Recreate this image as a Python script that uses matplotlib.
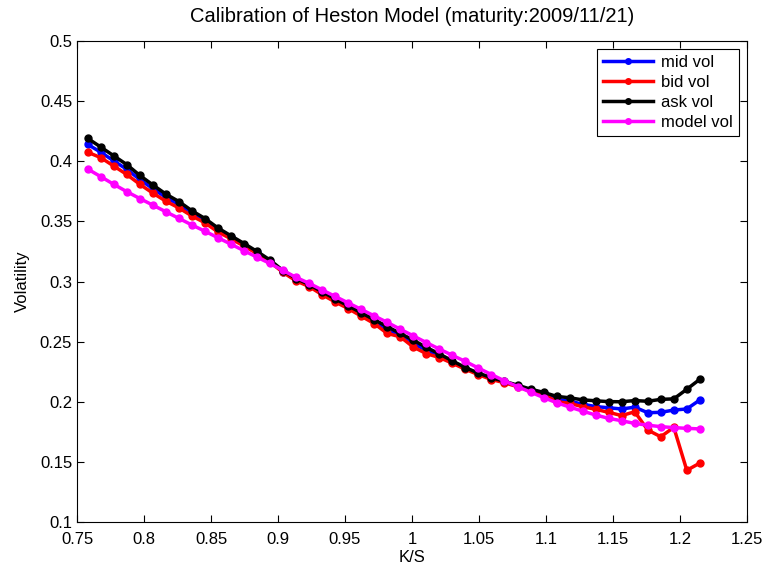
import numpy as np
import matplotlib
matplotlib.use("Agg")
import matplotlib.pyplot as plt
from matplotlib.ticker import FormatStrFormatter

plt.rcParams['font.family'] = ['Liberation Sans', 'DejaVu Sans']

# strikes and spot
strikes = [390, 395, 400, 405, 410, 415, 420, 425, 430, 435, 440, 445,
           450, 455, 460, 465, 470, 475, 480, 485, 490, 495, 500, 505,
           510, 515, 520, 525, 530, 535, 540, 545, 550, 555, 560, 565,
           570, 575, 580, 585, 590, 595, 600, 605, 610, 615, 620, 625]
spot = 514.5

mid_vol = [0.4140, 0.4075, 0.4003, 0.3933, 0.3848, 0.3772, 0.3700, 0.3640,
           0.3568, 0.3508, 0.3430, 0.3368, 0.3307, 0.3242, 0.3170, 0.3083,
           0.3015, 0.2967, 0.2903, 0.2843, 0.2787, 0.2727, 0.2668, 0.2598,
           0.2555, 0.2485, 0.2428, 0.2385, 0.2330, 0.2278, 0.2232, 0.2193,
           0.2165, 0.2132, 0.2098, 0.2070, 0.2020, 0.2005, 0.1980, 0.1960,
           0.1950, 0.1940, 0.1955, 0.1909, 0.1912, 0.1931, 0.1940, 0.2015]
bid_vol = [0.4075, 0.4030, 0.3960, 0.3890, 0.3808, 0.3735, 0.3668, 0.3612,
           0.3545, 0.3488, 0.3412, 0.3355, 0.3295, 0.3232, 0.3162, 0.3075,
           0.3005, 0.2958, 0.2890, 0.2830, 0.2775, 0.2712, 0.2650, 0.2568,
           0.2540, 0.2455, 0.2400, 0.2368, 0.2320, 0.2270, 0.2225, 0.2185,
           0.2158, 0.2125, 0.2090, 0.2065, 0.2000, 0.1987, 0.1959, 0.1937,
           0.1912, 0.1885, 0.1917, 0.1765, 0.1709, 0.1787, 0.1430, 0.1490]
ask_vol = [0.4190, 0.4118, 0.4045, 0.3972, 0.3882, 0.3803, 0.3727, 0.3665,
           0.3588, 0.3524, 0.3445, 0.3380, 0.3316, 0.3250, 0.3178, 0.3090,
           0.3025, 0.2975, 0.2915, 0.2855, 0.2798, 0.2740, 0.2682, 0.2625,
           0.2568, 0.2512, 0.2452, 0.2398, 0.2340, 0.2284, 0.2238, 0.2200,
           0.2170, 0.2138, 0.2105, 0.2078, 0.2045, 0.2033, 0.2016, 0.2008,
           0.2001, 0.2000, 0.2010, 0.2004, 0.2020, 0.2024, 0.2104, 0.2187]
model_vol = [0.3935, 0.3872, 0.3808, 0.3747, 0.3690, 0.3635, 0.3580, 0.3525,
             0.3470, 0.3418, 0.3364, 0.3310, 0.3256, 0.3202, 0.3150, 0.3092,
             0.3034, 0.2985, 0.2930, 0.2876, 0.2822, 0.2768, 0.2714, 0.2660,
             0.2603, 0.2548, 0.2492, 0.2438, 0.2386, 0.2335, 0.2280, 0.2226,
             0.2174, 0.2126, 0.2080, 0.2035, 0.1992, 0.1956, 0.1922, 0.1890,
             0.1862, 0.1842, 0.1820, 0.1805, 0.1793, 0.1785, 0.1779, 0.1774]

x = np.array(strikes) / spot

fig = plt.figure(figsize=(7.68, 5.73), dpi=100)
ax = fig.add_axes([0.1003, 0.089, 0.8724, 0.8394])

style = dict(linewidth=2.5, marker='o', markersize=5)
ax.plot(x, mid_vol, color='#0000ff', label='mid vol', **style)
ax.plot(x, bid_vol, color='#ff0000', label='bid vol', **style)
ax.plot(x, ask_vol, color='#000000', label='ask vol', **style)
ax.plot(x, model_vol, color='#ff00ff', label='model vol', **style)

ax.set_xlim(0.75, 1.25)
ax.set_ylim(0.1, 0.5)
ax.set_xticks(np.arange(0.75, 1.2501, 0.05))
ax.set_yticks(np.arange(0.1, 0.5001, 0.05))
ax.xaxis.set_major_formatter(FormatStrFormatter('%g'))
ax.yaxis.set_major_formatter(FormatStrFormatter('%g'))
ax.tick_params(direction='in', top=True, right=True, labelsize=12, length=5)
ax.tick_params(axis='x', pad=7)
ax.tick_params(axis='y', pad=3.5)
for s in ax.spines.values():
    s.set_linewidth(0.8)

ax.set_title('Calibration of Heston Model (maturity:2009/11/21)', fontsize=14.5, pad=14)
ax.set_xlabel('K/S', fontsize=12, labelpad=2)
ax.set_ylabel('Volatility', fontsize=12, labelpad=7)

leg = ax.legend(loc='upper right', numpoints=1, handlelength=3.0, fontsize=12,
                fancybox=False, framealpha=1, edgecolor='black',
                borderaxespad=0.5, labelspacing=0.3, borderpad=0.35,
                handletextpad=0.5, markerscale=0.8)
leg.get_frame().set_linewidth(0.8)

fig.savefig('out.png', dpi=100)
